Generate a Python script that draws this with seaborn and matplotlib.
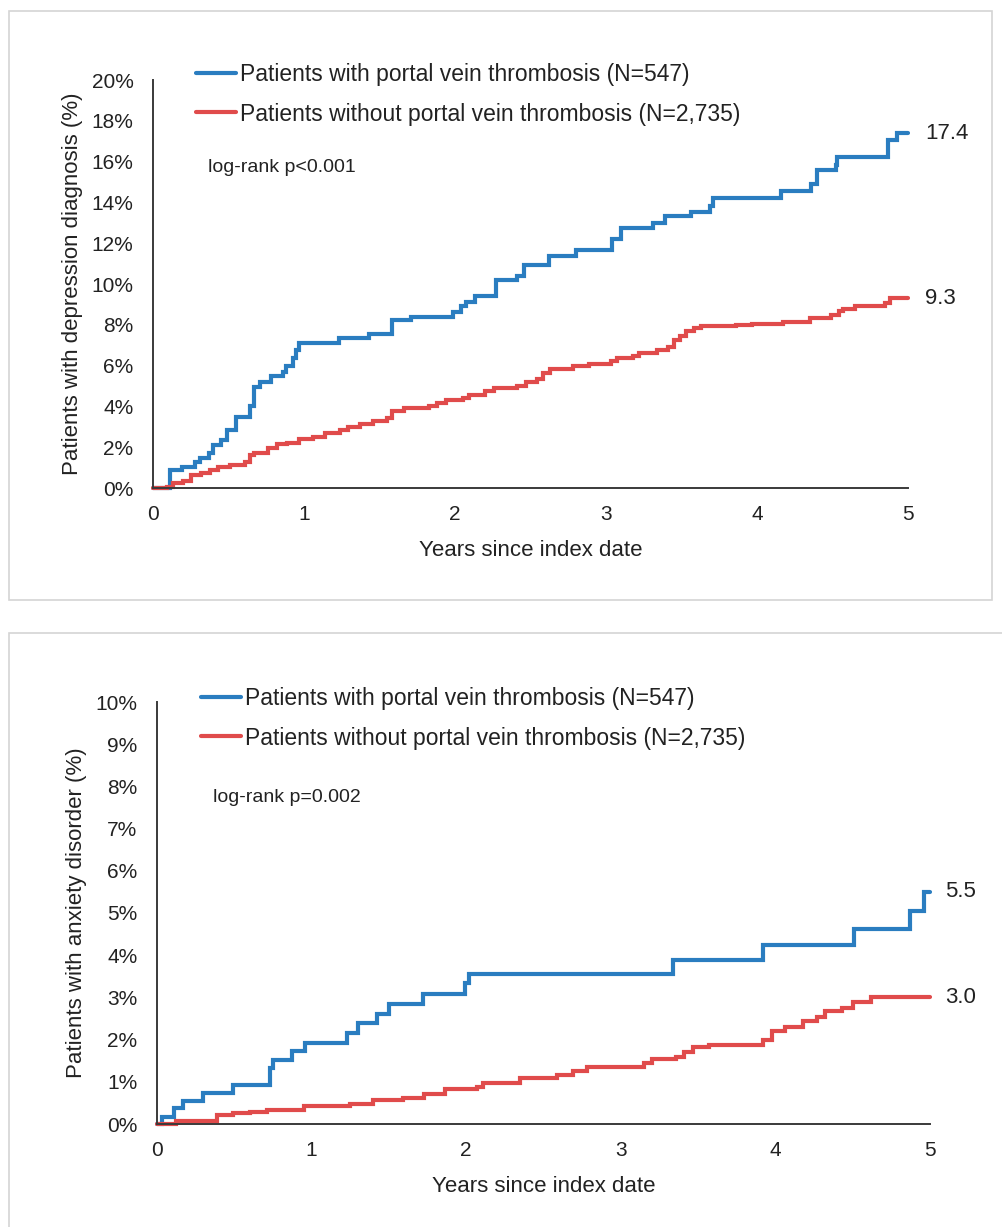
import numpy as np
import pandas as pd
import matplotlib
matplotlib.use("Agg")
import matplotlib.pyplot as plt
from matplotlib.patches import Rectangle
from matplotlib.lines import Line2D
import seaborn as sns

# cumulative incidence curves (years, %)
dep_pvt_x = [0, 0.11, 0.19, 0.28, 0.31, 0.37, 0.40, 0.45, 0.49, 0.55, 0.64, 0.67, 0.71, 0.78, 0.86, 0.88,
             0.93, 0.95, 0.97, 1.23, 1.43, 1.58, 1.71, 1.99, 2.04, 2.07, 2.13, 2.27, 2.41, 2.46, 2.62, 2.80,
             3.04, 3.10, 3.31, 3.39, 3.56, 3.69, 3.71, 4.16, 4.36, 4.40, 4.52, 4.53, 4.87, 4.93, 5.0]
dep_pvt_y = [0, 0.88, 1.04, 1.29, 1.45, 1.7, 2.1, 2.35, 2.84, 3.5, 4.0, 4.97, 5.2, 5.5, 5.7, 6.0,
             6.36, 6.76, 7.1, 7.33, 7.54, 8.23, 8.4, 8.65, 8.9, 9.1, 9.4, 10.2, 10.4, 10.95, 11.35, 11.65,
             12.2, 12.73, 13.0, 13.33, 13.55, 13.8, 14.2, 14.55, 14.9, 15.6, 15.85, 16.25, 17.07, 17.4, 17.4]

dep_ctl_x = [0, 0.09, 0.13, 0.2, 0.25, 0.32, 0.38, 0.43, 0.51, 0.61, 0.64, 0.67, 0.76, 0.82, 0.89, 0.97,
             1.06, 1.14, 1.24, 1.29, 1.37, 1.46, 1.55, 1.58, 1.66, 1.83, 1.88, 1.94, 2.05, 2.09, 2.2, 2.26,
             2.41, 2.47, 2.54, 2.58, 2.63, 2.78, 2.89, 3.03, 3.07, 3.18, 3.22, 3.34, 3.41, 3.45, 3.49, 3.53,
             3.58, 3.63, 3.86, 3.97, 4.17, 4.35, 4.49, 4.54, 4.57, 4.65, 4.85, 4.88, 5.0]
dep_ctl_y = [0, 0.07, 0.23, 0.36, 0.64, 0.72, 0.88, 1.01, 1.13, 1.29, 1.62, 1.74, 1.95, 2.16, 2.2, 2.4,
             2.5, 2.7, 2.84, 2.97, 3.14, 3.3, 3.43, 3.76, 3.92, 4.0, 4.17, 4.3, 4.42, 4.58, 4.75, 4.92,
             5.0, 5.2, 5.33, 5.66, 5.82, 5.96, 6.1, 6.24, 6.36, 6.49, 6.6, 6.76, 6.9, 7.27, 7.43, 7.7,
             7.83, 7.94, 8.0, 8.04, 8.15, 8.33, 8.5, 8.66, 8.78, 8.9, 9.07, 9.3, 9.3]

anx_pvt_x = [0, 0.03, 0.11, 0.17, 0.30, 0.49, 0.73, 0.75, 0.87, 0.96, 1.23, 1.30, 1.42, 1.50, 1.72,
             1.99, 2.02, 3.34, 3.92, 4.51, 4.87, 4.96, 5.0]
anx_pvt_y = [0, 0.17, 0.37, 0.55, 0.74, 0.92, 1.32, 1.52, 1.74, 1.93, 2.16, 2.39, 2.6, 2.84, 3.08,
             3.33, 3.55, 3.89, 4.23, 4.61, 5.05, 5.5, 5.5]

anx_ctl_x = [0, 0.12, 0.39, 0.49, 0.60, 0.71, 0.95, 1.25, 1.40, 1.59, 1.73, 1.86, 2.07, 2.11, 2.35, 2.59,
             2.69, 2.78, 3.15, 3.2, 3.36, 3.41, 3.47, 3.57, 3.92, 3.98, 4.06, 4.18, 4.27, 4.32, 4.43, 4.5,
             4.62, 5.0]
anx_ctl_y = [0, 0.08, 0.21, 0.25, 0.29, 0.33, 0.43, 0.47, 0.57, 0.62, 0.71, 0.82, 0.88, 0.98, 1.08, 1.16,
             1.26, 1.36, 1.44, 1.53, 1.59, 1.71, 1.82, 1.87, 1.99, 2.21, 2.31, 2.43, 2.53, 2.67, 2.74, 2.9,
             3.0, 3.0]

groups = ["Patients with portal vein thrombosis (N=547)",
          "Patients without portal vein thrombosis (N=2,735)"]
colors = ["#2a7dc0", "#e04b4b"]

sns.set_style("white")
plt.rcParams["font.family"] = ["Liberation Sans", "DejaVu Sans"]

fig = plt.figure(figsize=(10.03, 12.27), dpi=100)

# light grey chart-area frames
fig.patches.append(Rectangle((0.009, 0.511), 0.98, 0.48, transform=fig.transFigure,
                             fill=False, ec="#d4d4d4", lw=1.2))
fig.patches.append(Rectangle((0.009, -0.01), 1.0, 0.494, transform=fig.transFigure,
                             fill=False, ec="#d4d4d4", lw=1.2))

panels = [
    dict(rect=[153/1003, 1-488/1227, 755/1003, 408/1227],
         series=[(dep_pvt_x, dep_pvt_y), (dep_ctl_x, dep_ctl_y)],
         ymax=20, ystep=2, ylabel="Patients with depression diagnosis (%)",
         pval="log-rank p<0.001", pval_xy=(208, 168),
         leg_xy=(196, 63), ends=["17.4", "9.3"], end_x=925),
    dict(rect=[157/1003, 1-1124/1227, 773/1003, 422/1227],
         series=[(anx_pvt_x, anx_pvt_y), (anx_ctl_x, anx_ctl_y)],
         ymax=10, ystep=1, ylabel="Patients with anxiety disorder (%)",
         pval="log-rank p=0.002", pval_xy=(213, 798),
         leg_xy=(201, 687), ends=["5.5", "3.0"], end_x=945),
]

for p in panels:
    ax = fig.add_axes(p["rect"])
    frames = []
    for g, (xs, ys) in zip(groups, p["series"]):
        frames.append(pd.DataFrame({"year": xs, "pct": ys, "group": g}))
    df = pd.concat(frames, ignore_index=True)
    sns.lineplot(data=df, x="year", y="pct", hue="group", palette=colors,
                 drawstyle="steps-post", linewidth=3, legend=False, ax=ax,
                 estimator=None, sort=False)
    for line in ax.lines:
        line.set_clip_on(False)
        line.set_solid_joinstyle("miter")

    ax.set_xlim(0, 5)
    ax.set_ylim(0, p["ymax"])
    ax.set_xticks(range(0, 6))
    ax.set_yticks(np.arange(0, p["ymax"] + 0.1, p["ystep"]))
    ax.set_yticklabels([f"{v:.0f}%" for v in np.arange(0, p["ymax"] + 0.1, p["ystep"])])
    ax.tick_params(axis="both", length=0, labelsize=15, colors="#222222")
    ax.tick_params(axis="y", pad=14)
    ax.tick_params(axis="x", pad=12)
    sns.despine(ax=ax)
    for s in ["left", "bottom"]:
        ax.spines[s].set_color("#3a3a3a")
        ax.spines[s].set_linewidth(1.4)
    ax.set_xlabel("Years since index date", fontsize=16, color="#222222", labelpad=12)
    ax.set_ylabel(p["ylabel"], fontsize=16, color="#222222", labelpad=6)

    # end-of-follow-up values
    for (xs, ys), lab in zip(p["series"], p["ends"]):
        ax.annotate(lab, xy=(xs[-1], ys[-1]), xycoords="data",
                    xytext=(p["end_x"] / 1003, ys[-1]), textcoords=("figure fraction", "data"),
                    fontsize=16, color="#222222", va="center", ha="left")

    fig.text(p["pval_xy"][0] / 1003, 1 - p["pval_xy"][1] / 1227, p["pval"],
             fontsize=14, color="#222222", va="center", ha="left")

    handles = [Line2D([0], [0], color=c, lw=3) for c in colors]
    ax.legend(handles, groups, loc="upper left", frameon=False, fontsize=16.5,
              bbox_to_anchor=(p["leg_xy"][0] / 1003, 1 - p["leg_xy"][1] / 1227),
              bbox_transform=fig.transFigure, borderpad=0, borderaxespad=0,
              handlelength=1.75, handletextpad=0.15, labelspacing=0.72)
    for t in ax.get_legend().get_texts():
        t.set_color("#222222")

fig.savefig("out.png", dpi=100, facecolor="white")
